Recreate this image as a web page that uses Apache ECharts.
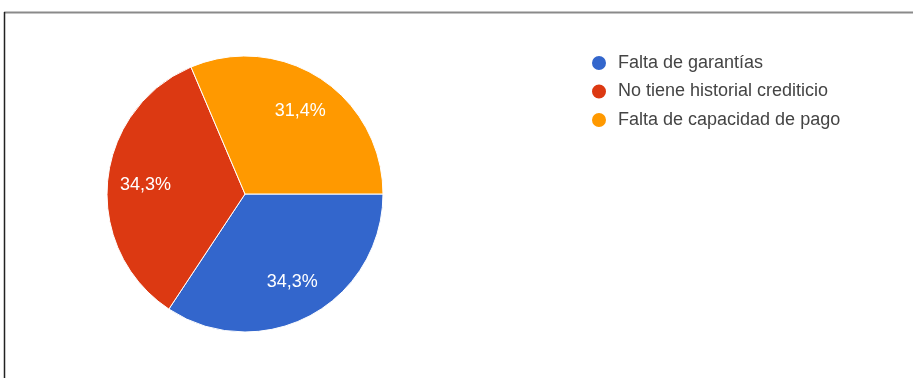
<!DOCTYPE html>
<html>
<head>
<meta charset="utf-8">
<script src="https://cdn.jsdelivr.net/npm/echarts@6/dist/echarts.min.js"></script>
<style>
  html, body { margin: 0; padding: 0; background: #fff; }
  #chart { width: 913px; height: 378px; }
</style>
</head>
<body>
<div id="chart"></div>
<script>
// Motivos de rechazo de crédito
const categories = ['Falta de garantías', 'No tiene historial crediticio', 'Falta de capacidad de pago'];
const values = [34.3, 34.3, 31.4];
const colors = ['#3366cc', '#dc3912', '#ff9900'];

const pieData = categories.map((name, i) => ({
  name: name,
  value: values[i],
  itemStyle: { color: colors[i] }
}));

const chart = echarts.init(document.getElementById('chart'), null, { renderer: 'canvas' });

const center = [245, 194];
const radius = 138;

chart.setOption({
  animation: false,
  backgroundColor: '#ffffff',
  legend: {
    orient: 'vertical',
    left: 585,
    top: 49,
    icon: 'circle',
    itemWidth: 28,
    itemHeight: 16,
    symbolKeepAspect: true,
    itemGap: 10.5,
    textStyle: { fontFamily: 'Arial, "Liberation Sans", sans-serif', fontSize: 18, color: '#444' },
    data: categories
  },
  graphic: [
    {
      type: 'line',
      shape: { x1: 4, y1: 12.5, x2: 913, y2: 12.5 },
      style: { stroke: '#8a8a8a', lineWidth: 2 }
    },
    {
      type: 'line',
      shape: { x1: 4.5, y1: 12, x2: 4.5, y2: 378 },
      style: { stroke: '#222', lineWidth: 1.5 }
    }
  ],
  series: [
    {
      type: 'pie',
      center: center,
      radius: radius,
      startAngle: 0,
      clockwise: true,
      label: { show: false },
      labelLine: { show: false },
      itemStyle: { borderColor: '#ffffff', borderWidth: 1 },
      emphasis: { disabled: true },
      data: pieData
    },
    {
      // label ring: places the percentage text further out from the centre
      type: 'pie',
      center: center,
      radius: [56, radius],
      startAngle: 0,
      clockwise: true,
      silent: true,
      legendHoverLink: false,
      itemStyle: { color: 'rgba(0,0,0,0)' },
      label: {
        show: true,
        position: 'inside',
        color: '#ffffff',
        fontFamily: 'Arial, "Liberation Sans", sans-serif',
        fontSize: 18,
        formatter: (p) => p.value.toFixed(1).replace('.', ',') + '%'
      },
      labelLine: { show: false },
      emphasis: { disabled: true },
      data: categories.map((name, i) => ({ name: name, value: values[i] }))
    }
  ]
});
</script>
</body>
</html>
